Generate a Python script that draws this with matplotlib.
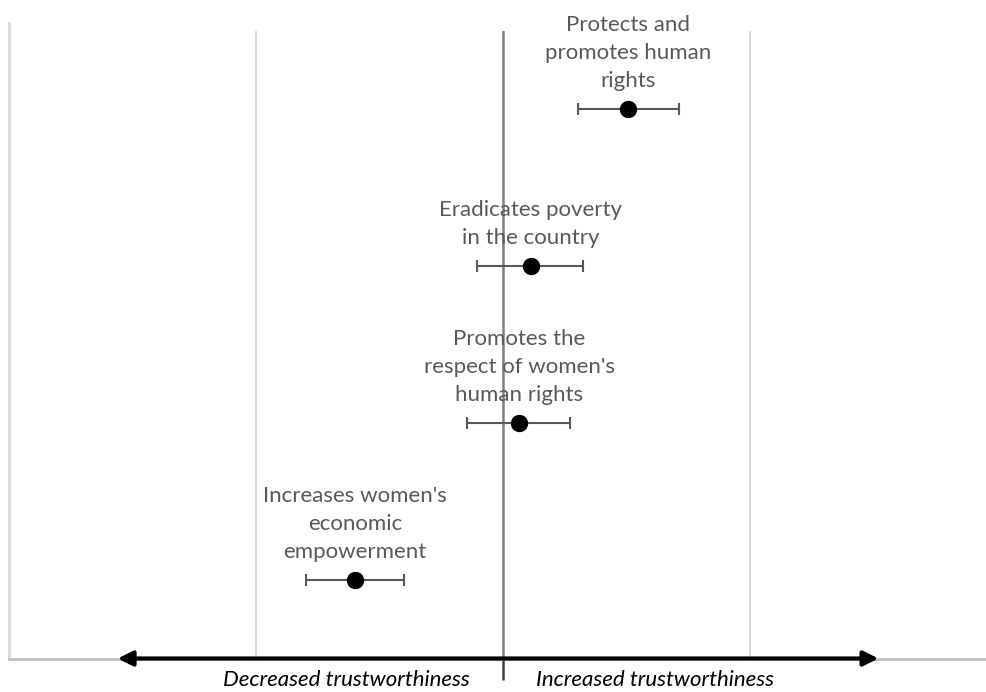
import matplotlib.pyplot as plt

plt.rcParams['font.family'] = ['Lato', 'DejaVu Sans']

labels = ["Protects and\npromotes human\nrights",
          "Eradicates poverty\nin the country",
          "Promotes the\nrespect of women's\nhuman rights",
          "Increases women's\neconomic\nempowerment"]
rows = [4, 3, 2, 1]
estimate = [0.0506, 0.0113, 0.0065, -0.0599]
low = [0.0304, -0.0105, -0.0146, -0.0798]
high = [0.0713, 0.0324, 0.0271, -0.0401]

fig = plt.figure(figsize=(9.86, 6.92), dpi=100)
ax = fig.add_axes([9 / 986, 1 - 658.5 / 692, 988 / 986, 628 / 692])
ax.set_xlim(-0.2, 0.2)
ax.set_ylim(0.5, 4.5)

for s in ['top', 'right']:
    ax.spines[s].set_visible(False)
ax.spines['left'].set_color('#d9d9d9')
ax.spines['left'].set_linewidth(2)
ax.spines['left'].set_bounds(0.5, 4.55)
ax.spines['bottom'].set_color('#bfbfbf')
ax.spines['bottom'].set_linewidth(2)
ax.set_yticks([])
ax.set_xticks([0])
ax.set_xticklabels([''])
ax.tick_params(axis='x', length=15, width=1.8, color='#404040', direction='out')

for gx in [-0.1, 0.1]:
    ax.axvline(gx, color='#d9d9d9', lw=1.5, zorder=0)
ax.axvline(0, color='#7f7f7f', lw=1.8, zorder=1)

err = [[e - l for e, l in zip(estimate, low)], [h - e for e, h in zip(estimate, high)]]
ax.errorbar(estimate, rows, xerr=err, fmt='o', color='black', ms=11.5,
            ecolor='#595959', elinewidth=1.5, capsize=4, capthick=1.5, zorder=3)

for x, y, t in zip(estimate, rows, labels):
    ax.annotate(t, (x, y), xytext=(0, 13), textcoords='offset points',
                ha='center', va='bottom', fontsize=16, color='#595959',
                linespacing=1.5)

# double-headed arrow along the bottom
arrow_x = [-0.156, 0.152]
ax.annotate('', xy=(arrow_x[0], 0.5), xytext=(arrow_x[1], 0.5),
            arrowprops=dict(arrowstyle='<|-|>', color='black', lw=3,
                            mutation_scale=22, shrinkA=0, shrinkB=0),
            annotation_clip=False)

fig.text(346 / 986, 1 - 686 / 692, 'Decreased trustworthiness', ha='center', va='baseline',
         fontsize=16, style='italic', color='black')
fig.text(655 / 986, 1 - 686 / 692, 'Increased trustworthiness', ha='center', va='baseline',
         fontsize=16, style='italic', color='black')

fig.savefig('out.png', dpi=100)
